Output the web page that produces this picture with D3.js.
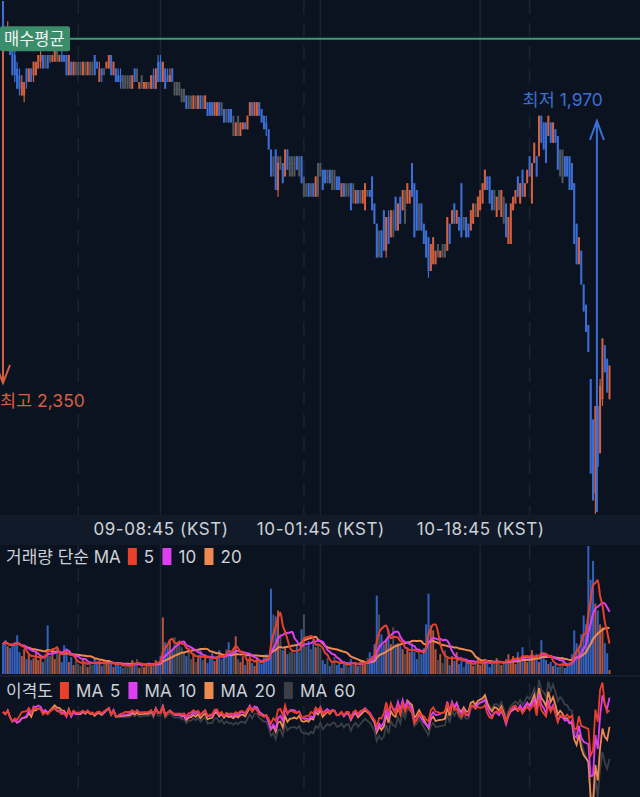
<!DOCTYPE html>
<html>
<head>
<meta charset="utf-8">
<script src="https://cdn.jsdelivr.net/npm/d3@7"></script>
<style>
html, body { margin: 0; padding: 0; background: #0b1320; }
svg { display: block; font-family: "Inter", "Noto Sans CJK KR", sans-serif; }
</style>
</head>
<body>
<svg id="chart"></svg>
<script>
const width = 640;
const height = 797;

// 15분봉, 10-08 16:00 (KST) 부터
const firstCandle = "2024-10-08 16:00";
const intervalMin = 15;

const candleOpen = [
  2350,2330,2315,2330,2315,2310,2300,2295,2280,2280,2300,2290,2300,2295,2295,2300,2305,2310,2305,2310,
  2305,2305,2305,2310,2305,2310,2310,2310,2295,2305,2295,2300,2300,2300,2295,2300,2295,2300,2300,2310,
  2305,2290,2300,2300,2300,2300,2310,2295,2300,2295,2295,2290,2290,2290,2290,2285,2300,2295,2285,2290,
  2285,2285,2290,2285,2295,2285,2305,2305,2290,2300,2295,2290,2300,2285,2285,2285,2280,2280,2280,2275,
  2275,2270,2275,2270,2280,2275,2270,2275,2275,2275,2265,2265,2275,2270,2270,2265,2270,2270,2255,2250,
  2255,2250,2255,2260,2255,2265,2275,2265,2265,2275,2270,2265,2260,2255,2240,2225,2240,2210,2230,2230,
  2220,2240,2230,2230,2230,2235,2230,2235,2210,2210,2215,2210,2215,2205,2215,2225,2225,2225,2220,2225,
  2220,2220,2220,2220,2205,2215,2210,2210,2215,2205,2200,2210,2205,2200,2195,2210,2210,2220,2200,2185,
  2170,2180,2195,2165,2190,2175,2185,2205,2180,2205,2195,2195,2200,2200,2230,2215,2210,2190,2200,2185,
  2180,2175,2150,2155,2155,2165,2160,2165,2165,2165,2185,2185,2200,2185,2190,2215,2185,2190,2185,2180,
  2185,2195,2190,2195,2200,2210,2220,2220,2210,2205,2190,2200,2190,2195,2200,2170,2170,2195,2200,2220,
  2200,2225,2205,2215,2235,2200,2230,2235,2235,2265,2260,2260,2250,2260,2245,2255,2250,2235,2230,2235,
  2235,2235,2230,2215,2185,2155,2165,2140,2125,2110,2070,2040,1985,2050,2015,2055,2095,2085,2055
];
const candleHigh = [
  2350,2330,2335,2330,2315,2315,2305,2300,2295,2290,2300,2300,2300,2305,2305,2310,2315,2310,2310,2310,
  2310,2310,2315,2315,2310,2315,2310,2310,2310,2305,2305,2305,2305,2305,2305,2305,2305,2305,2305,2310,
  2305,2305,2300,2300,2305,2310,2310,2305,2300,2300,2300,2295,2295,2295,2295,2295,2300,2300,2290,2295,
  2290,2290,2290,2295,2300,2300,2310,2310,2305,2300,2300,2300,2300,2290,2290,2290,2285,2285,2280,2280,
  2280,2280,2280,2280,2280,2280,2280,2275,2275,2275,2275,2275,2275,2275,2270,2270,2270,2270,2265,2260,
  2265,2260,2260,2260,2265,2275,2275,2275,2275,2275,2270,2265,2265,2255,2240,2235,2240,2235,2235,2230,
  2240,2240,2235,2235,2235,2235,2235,2235,2220,2215,2215,2215,2215,2220,2230,2230,2225,2225,2225,2225,
  2225,2225,2220,2220,2215,2215,2215,2215,2215,2215,2210,2210,2210,2210,2215,2210,2210,2220,2200,2185,
  2180,2180,2195,2190,2195,2195,2195,2205,2200,2205,2210,2210,2215,2210,2230,2215,2210,2200,2200,2185,
  2180,2175,2170,2175,2165,2170,2165,2170,2170,2190,2185,2195,2200,2195,2190,2215,2190,2190,2185,2195,
  2200,2200,2205,2210,2215,2225,2220,2220,2210,2210,2205,2210,2210,2205,2200,2190,2200,2205,2210,2220,
  2215,2225,2215,2225,2235,2230,2245,2235,2265,2265,2260,2260,2265,2260,2260,2255,2250,2240,2240,2235,
  2235,2235,2230,2215,2185,2175,2165,2140,2125,2110,2070,2040,2050,2050,2070,2100,2095,2085,2080
];
const candleLow = [
  2330,2315,2315,2310,2295,2290,2285,2280,2280,2275,2285,2290,2290,2290,2295,2300,2300,2300,2300,2300,
  2305,2305,2305,2305,2305,2305,2305,2295,2295,2295,2295,2295,2295,2295,2295,2295,2295,2295,2295,2295,
  2300,2290,2290,2295,2300,2300,2295,2295,2290,2290,2285,2285,2285,2285,2285,2285,2290,2290,2285,2285,
  2285,2285,2285,2285,2285,2285,2290,2290,2290,2285,2290,2290,2290,2280,2280,2280,2275,2275,2270,2270,
  2270,2270,2270,2270,2270,2270,2270,2265,2265,2265,2265,2265,2265,2265,2260,2260,2260,2260,2250,2250,
  2250,2250,2255,2255,2255,2265,2265,2265,2265,2265,2260,2255,2250,2240,2220,2220,2210,2205,2225,2215,
  2220,2225,2220,2220,2220,2225,2220,2215,2205,2205,2205,2205,2205,2205,2205,2220,2210,2215,2215,2215,
  2210,2210,2210,2210,2205,2205,2205,2205,2195,2200,2200,2200,2200,2200,2195,2205,2205,2195,2185,2160,
  2160,2160,2165,2160,2170,2175,2175,2180,2180,2185,2195,2185,2200,2200,2205,2175,2180,2180,2180,2170,
  2160,2145,2150,2155,2155,2160,2160,2160,2160,2165,2170,2185,2185,2185,2180,2175,2180,2175,2175,2180,
  2185,2190,2190,2195,2200,2210,2210,2200,2195,2195,2190,2195,2190,2185,2175,2170,2170,2195,2200,2205,
  2200,2205,2205,2215,2220,2200,2230,2220,2235,2245,2240,2230,2250,2245,2245,2245,2225,2220,2215,2220,
  2220,2210,2210,2170,2155,2155,2140,2120,2105,2090,2000,1980,1970,2005,2015,2050,2075,2060,2055
];
const candleClose = [
  2330,2320,2330,2310,2295,2295,2285,2285,2290,2290,2290,2300,2290,2305,2305,2310,2310,2300,2305,2300,
  2305,2310,2315,2310,2310,2305,2305,2295,2310,2295,2305,2300,2300,2300,2305,2300,2305,2300,2300,2295,
  2300,2300,2295,2300,2305,2310,2295,2305,2290,2290,2290,2290,2290,2290,2290,2295,2290,2295,2290,2290,
  2290,2290,2290,2295,2285,2300,2290,2290,2305,2285,2290,2295,2290,2285,2285,2285,2280,2280,2270,2275,
  2275,2280,2275,2280,2270,2275,2280,2265,2265,2265,2275,2275,2265,2270,2260,2265,2260,2260,2255,2260,
  2255,2260,2260,2255,2265,2275,2265,2275,2275,2265,2260,2255,2255,2240,2220,2225,2210,2230,2230,2215,
  2240,2225,2230,2230,2230,2225,2230,2215,2210,2210,2205,2210,2205,2220,2215,2225,2210,2215,2220,2215,
  2220,2220,2210,2210,2215,2205,2210,2210,2195,2205,2210,2200,2205,2210,2215,2210,2205,2195,2185,2160,
  2170,2160,2165,2190,2170,2195,2185,2180,2200,2185,2210,2195,2215,2210,2205,2175,2180,2190,2180,2170,
  2160,2150,2170,2175,2165,2165,2165,2165,2165,2190,2170,2195,2185,2195,2180,2175,2185,2175,2175,2195,
  2200,2195,2205,2210,2215,2225,2210,2200,2195,2205,2205,2200,2210,2195,2175,2190,2200,2205,2210,2205,
  2215,2205,2215,2225,2220,2230,2245,2220,2265,2245,2240,2230,2265,2245,2260,2245,2225,2235,2230,2220,
  2220,2210,2210,2170,2155,2175,2140,2120,2105,2090,2000,1980,2050,2005,2065,2100,2075,2060,2080
];
// 거래량 (천 단위)
const volumes = [
  30,34,28,26,30,32,39,22,18,25,15,20,14,16,22,14,18,12,20,49,
  18,25,15,28,20,12,29,26,12,17,9,14,10,8,15,11,7,13,9,16,
  12,10,8,14,11,9,13,7,10,12,8,6,9,7,11,14,8,15,6,9,
  7,10,12,8,11,14,12,18,57,32,28,35,25,37,30,34,27,22,18,25,
  15,20,12,17,24,14,19,11,16,21,13,18,24,15,20,25,32,20,26,38,
  15,12,18,9,14,20,11,8,16,13,10,17,20,15,86,60,58,64,40,24,
  27,20,22,25,21,30,22,45,60,28,33,25,35,27,30,26,14,10,16,8,
  12,17,9,11,6,13,10,7,15,9,12,8,11,14,10,16,22,18,30,79,
  60,40,30,35,45,30,47,30,31,28,25,20,25,22,31,22,15,25,20,26,
  50,81,49,44,25,14,20,11,24,16,9,18,13,22,10,15,7,12,10,14,
  8,12,17,9,13,15,11,7,14,10,16,12,9,11,15,20,12,18,10,22,
  14,27,16,12,18,24,15,20,12,34,22,14,10,12,8,11,7,9,13,6,
  8,12,20,44,31,25,40,59,50,129,95,114,71,64,50,47,31,21,4
];

const avgBuyPrice = 2322;
const axisTickTimes = ["2024-10-09 08:45", "2024-10-10 01:45", "2024-10-10 18:45"];
const dayStartTimes = ["2024-10-09 00:00", "2024-10-10 00:00", "2024-10-11 00:00"];
const volumeMaPeriods = [5, 10, 20];
const dispMaPeriods = [5, 10, 20, 60];

const colors = {
  bg: "#0b1320", band: "#111a28", grid: "#1c2433",
  up: "#d3603e", down: "#3b6fd6", flat: "#52565d",
  text: "#cdd1d8", avg: "#3d9a73", avgBox: "#3a8c6b"
};
const maColors = { 5: "#e8402b", 10: "#dd3ff0", 20: "#ee8a4f", 60: "#3b3e44" };

const parseT = d3.timeParse("%Y-%m-%d %H:%M");
const t0 = parseT(firstCandle);
const times = candleOpen.map((d, i) => d3.timeMinute.offset(t0, i * intervalMin));
const candles = times.map((t, i) => ({
  t: t, o: candleOpen[i], h: candleHigh[i], l: candleLow[i], c: candleClose[i], v: volumes[i]
}));
function candleColor(d) {
  if (d.c > d.o) return colors.up;
  if (d.c < d.o) return colors.down;
  return colors.flat;
}
function sma(arr, n) {
  return arr.map((v, i) => d3.mean(arr.slice(Math.max(0, i - n + 1), i + 1)));
}

const svg = d3.select("#chart").attr("width", width).attr("height", height);
svg.append("rect").attr("width", width).attr("height", height).attr("fill", colors.bg);

// panels
const mainBottom = 515, bandBottom = 545, volBottom = 675, dispTop = 677;

const x = d3.scaleTime()
  .domain([times[0], times[times.length - 1]])
  .range([3, 609.5]);
const y = d3.scaleLinear().domain([1970, 2350]).range([514, 1]);
const yVol = d3.scaleLinear().domain([0, 130]).range([volBottom - 1, bandBottom]);
const yDisp = d3.scaleLinear().domain([90, 104]).range([812, 672]);

// x축 밴드
svg.append("rect").attr("x", 0).attr("y", mainBottom).attr("width", width)
  .attr("height", bandBottom - mainBottom).attr("fill", colors.band);
svg.append("line").attr("x1", 0).attr("x2", width).attr("y1", volBottom + 1).attr("y2", volBottom + 1)
  .attr("stroke", "#1a2231").attr("stroke-width", 1.5);

// grid lines
const tickDates = axisTickTimes.map(parseT);
const dayDates = dayStartTimes.map(parseT);
const spans = [[0, mainBottom], [bandBottom, height]];
spans.forEach(s => {
  svg.append("g").selectAll("line").data(tickDates).enter().append("line")
    .attr("x1", d => x(d)).attr("x2", d => x(d))
    .attr("y1", s[0]).attr("y2", s[1])
    .attr("stroke", colors.grid).attr("stroke-width", 1.5);
  svg.append("g").selectAll("line").data(dayDates).enter().append("line")
    .attr("x1", d => x(d)).attr("x2", d => x(d))
    .attr("y1", s[0]).attr("y2", s[1])
    .attr("stroke", colors.grid).attr("stroke-width", 1.5)
    .attr("stroke-dasharray", "14,9");
});

// x axis
const xAxis = d3.axisBottom(x).tickValues(tickDates)
  .tickFormat(d3.timeFormat("%d-%H:%M (KST)")).tickSize(0);
const gx = svg.append("g").attr("transform", `translate(0,${mainBottom})`).call(xAxis);
gx.select(".domain").remove();
gx.selectAll("text")
  .attr("y", 8).attr("dy", "0.71em")
  .attr("fill", colors.text)
  .style("font-size", "17px")
  .style("letter-spacing", "0.6px")
  .style("font-family", "Inter, 'Noto Sans CJK KR', sans-serif");

// 최고 화살표 (왼쪽)
const hiIdx = d3.maxIndex(candleHigh);
const loIdx = d3.minIndex(candleLow);
const hiX = x(times[hiIdx]);
svg.append("line").attr("x1", hiX).attr("x2", hiX).attr("y1", y(candleHigh[hiIdx])).attr("y2", 383)
  .attr("stroke", colors.up).attr("stroke-width", 2);
svg.append("path").attr("d", `M${hiX - 7},365L${hiX},383L${hiX + 7},365`)
  .attr("fill", "none").attr("stroke", colors.up).attr("stroke-width", 2);
svg.append("text").attr("x", 0).attr("y", 407)
  .attr("fill", colors.up).style("font-size", "17.5px")
  .text("최고 " + d3.format(",")(candleHigh[hiIdx]));

// candles
const cg = svg.append("g");
cg.selectAll(".wick").data(candles).enter().append("rect")
  .attr("x", d => x(d.t) - (d.o === d.c ? 1 : 0.6))
  .attr("width", d => d.o === d.c ? 2 : 1.2)
  .attr("y", d => y(d.h))
  .attr("height", d => Math.max(1, y(d.l) - y(d.h)))
  .attr("fill", candleColor);
cg.selectAll(".body").data(candles).enter().append("rect")
  .attr("x", d => x(d.t) - 1)
  .attr("width", 2)
  .attr("y", d => y(Math.max(d.o, d.c)))
  .attr("height", d => Math.max(1, Math.abs(y(d.o) - y(d.c))))
  .attr("fill", candleColor);

// 최저 화살표
const loX = x(times[loIdx]) + 1.5;
svg.append("line").attr("x1", loX).attr("x2", loX).attr("y1", y(candleLow[loIdx]) - 2).attr("y2", 121)
  .attr("stroke", colors.down).attr("stroke-width", 2);
svg.append("path").attr("d", `M${loX - 7},140L${loX},121L${loX + 7},140`)
  .attr("fill", "none").attr("stroke", colors.down).attr("stroke-width", 2);
svg.append("text").attr("x", loX + 6).attr("y", 106).attr("text-anchor", "end")
  .attr("fill", colors.down).style("font-size", "17.5px")
  .text("최저 " + d3.format(",")(candleLow[loIdx]));

// 매수평균
svg.append("line").attr("x1", 60).attr("x2", width).attr("y1", y(avgBuyPrice)).attr("y2", y(avgBuyPrice))
  .attr("stroke", colors.avg).attr("stroke-width", 2);
svg.append("rect").attr("x", 0).attr("y", y(avgBuyPrice) - 12.5).attr("width", 70).attr("height", 25)
  .attr("rx", 2).attr("fill", colors.avgBox);
svg.append("text").attr("x", 4).attr("y", y(avgBuyPrice) + 6.5)
  .attr("fill", "#f2f5f3").style("font-size", "16.5px").text("매수평균");

// volume panel
svg.append("defs").append("clipPath").attr("id", "volClip")
  .append("rect").attr("x", 0).attr("y", bandBottom).attr("width", width).attr("height", volBottom - bandBottom);
svg.select("defs").append("clipPath").attr("id", "dispClip")
  .append("rect").attr("x", 0).attr("y", dispTop).attr("width", width).attr("height", height - dispTop);

const vg = svg.append("g").attr("clip-path", "url(#volClip)");
vg.selectAll("rect").data(candles).enter().append("rect")
  .attr("x", d => x(d.t) - 1)
  .attr("width", 2)
  .attr("y", d => yVol(d.v))
  .attr("height", d => yVol(0) - yVol(d.v))
  .attr("fill", candleColor)
  .attr("opacity", 0.85);

volumeMaPeriods.slice().reverse().forEach(n => {
  const ma = sma(volumes, n);
  vg.append("path").datum(ma)
    .attr("fill", "none")
    .attr("stroke", maColors[n])
    .attr("stroke-width", 2)
    .attr("d", d3.line().x((d, i) => x(times[i])).y(d => yVol(d)).curve(d3.curveMonotoneX));
});

// 이격도 panel
const dg = svg.append("g").attr("clip-path", "url(#dispClip)");
dispMaPeriods.slice().reverse().forEach(n => {
  const ma = sma(candleClose, n);
  const disp = candleClose.map((c, i) => c / ma[i] * 100);
  dg.append("path").datum(disp)
    .attr("fill", "none")
    .attr("stroke", maColors[n])
    .attr("stroke-width", 1.8)
    .attr("d", d3.line().x((d, i) => x(times[i])).y(d => yDisp(d)));
});

// legends
function legend(title, items, baseY) {
  const g = svg.append("g").style("font-size", "17px").attr("fill", colors.text);
  let cx = 6;
  const t = g.append("text").attr("x", cx).attr("y", baseY).text(title);
  cx += t.node().getComputedTextLength() + 7;
  items.forEach(it => {
    g.append("rect").attr("x", cx).attr("y", baseY - 15).attr("width", 9).attr("height", 17)
      .attr("fill", it.color);
    cx += 9 + 7;
    const lt = g.append("text").attr("x", cx).attr("y", baseY)
      .style("letter-spacing", "0.2px").style("word-spacing", "1.5px").text(it.label);
    cx += lt.node().getComputedTextLength() + 8;
  });
}
legend("거래량 단순 MA", volumeMaPeriods.map(n => ({ label: String(n), color: maColors[n] })), 563);
legend("이격도", dispMaPeriods.map(n => ({ label: "MA " + n, color: maColors[n] })), 697);
</script>
</body>
</html>
